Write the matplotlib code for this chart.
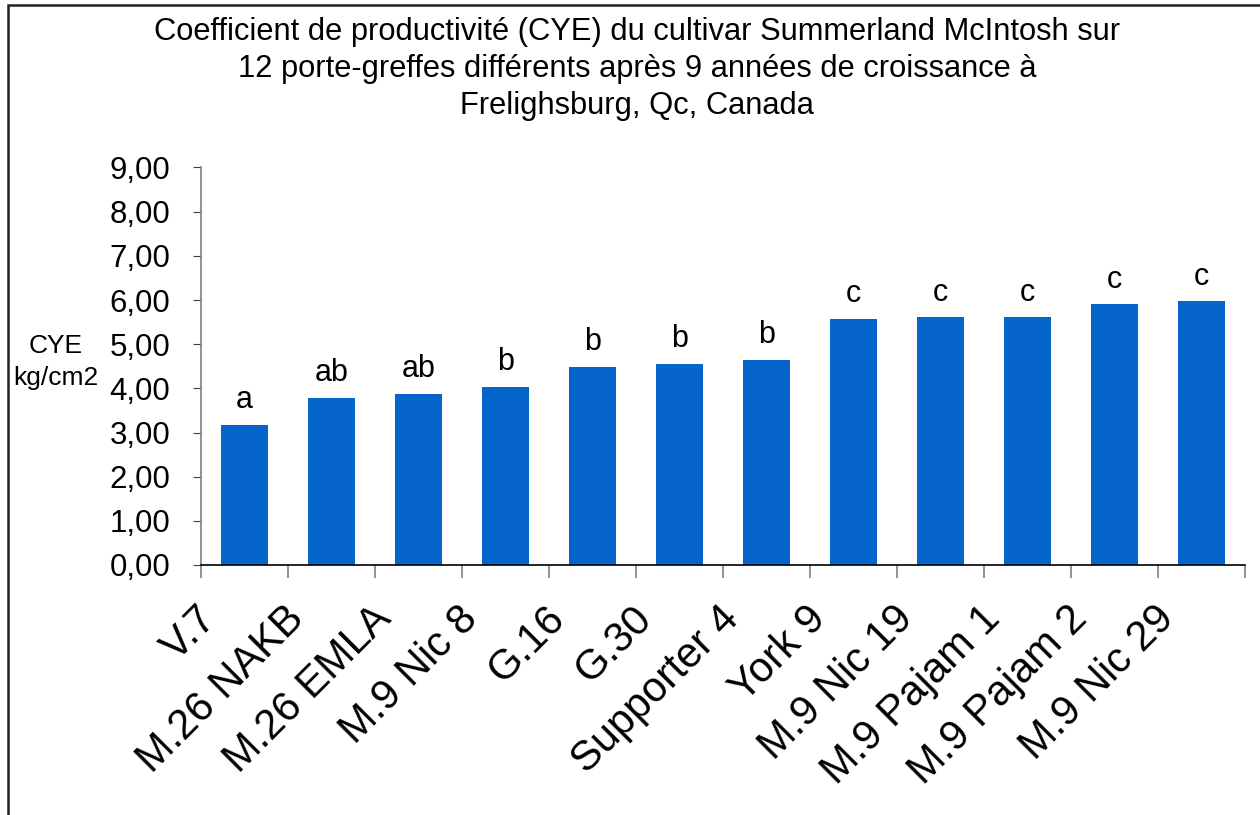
import matplotlib.pyplot as plt
import matplotlib.patches as patches
from matplotlib.ticker import FixedLocator, FuncFormatter
from matplotlib.transforms import ScaledTranslation

plt.rcParams['font.family'] = ['Liberation Sans', 'DejaVu Sans']

porte_greffes = ['V.7', 'M.26 NAKB', 'M.26 EMLA', 'M.9 Nic 8', 'G.16', 'G.30',
                 'Supporter 4', 'York 9', 'M.9 Nic 19', 'M.9 Pajam 1',
                 'M.9 Pajam 2', 'M.9 Nic 29']
cye = [3.17, 3.78, 3.87, 4.03, 4.48, 4.55, 4.64, 5.57, 5.61, 5.61, 5.90, 5.97]
lettres = ['a', 'ab', 'ab', 'b', 'b', 'b', 'b', 'c', 'c', 'c', 'c', 'c']

fig = plt.figure(figsize=(12.6, 8.15), dpi=100)
ax = fig.add_axes([201 / 1260, 250 / 815, 1044 / 1260, 397.5 / 815])

x = list(range(len(porte_greffes)))
ax.bar(x, cye, width=0.55, color='#0565CD')

for i, v in enumerate(cye):
    ax.annotate(lettres[i], (i, v), xytext=(0, 12), textcoords='offset points',
                ha='center', va='baseline', fontsize=22)

ax.set_xlim(-0.5, len(porte_greffes) - 0.5)
ax.set_ylim(0, 9)
ax.set_yticks(range(0, 10))
ax.yaxis.set_major_formatter(FuncFormatter(lambda v, p: ('%.2f' % v).replace('.', ',')))

# ticks between categories, labels at centres
ax.xaxis.set_major_locator(FixedLocator([i - 0.5 for i in range(len(porte_greffes) + 1)]))
ax.xaxis.set_major_formatter(FuncFormatter(lambda v, p: ''))
ax.xaxis.set_minor_locator(FixedLocator(x))
ax.set_xticklabels(porte_greffes, minor=True, rotation=45, ha='right',
                   rotation_mode='anchor', fontsize=30)
ax.tick_params(axis='x', which='major', direction='out', length=9, color='#808080', width=1.2)
ax.tick_params(axis='x', which='minor', length=0, pad=24)
ax.tick_params(axis='y', direction='out', length=6, color='#404040', labelsize=22.5, pad=16)

shift = ScaledTranslation(-0.48, 0, fig.dpi_scale_trans)
for lab in ax.get_xticklabels(minor=True):
    lab.set_transform(lab.get_transform() + shift)

ax.spines['top'].set_visible(False)
ax.spines['right'].set_visible(False)
ax.spines['left'].set_color('#808080')
ax.spines['left'].set_linewidth(1.2)
ax.spines['bottom'].set_color('black')
ax.spines['bottom'].set_linewidth(1.2)

fig.text(56 / 1260, 1 - 362 / 815, 'CYE\nkg/cm2', ha='center', va='center',
         fontsize=19, linespacing=1.45)

fig.text(637 / 1260, 1 - 17 / 815,
         'Coefficient de productivité (CYE) du cultivar Summerland McIntosh sur\n'
         '12 porte-greffes différents après 9 années de croissance à\n'
         'Frelighsburg, Qc, Canada',
         ha='center', va='top', fontsize=22.2, linespacing=1.3)

# frame around the chart area
fig.patches.append(patches.Rectangle((8 / 1260, -0.1), 1.2, 1.1 - 5 / 815,
                                     transform=fig.transFigure, fill=False,
                                     edgecolor='#222222', linewidth=1.8))

fig.savefig('out.png', dpi=100)
